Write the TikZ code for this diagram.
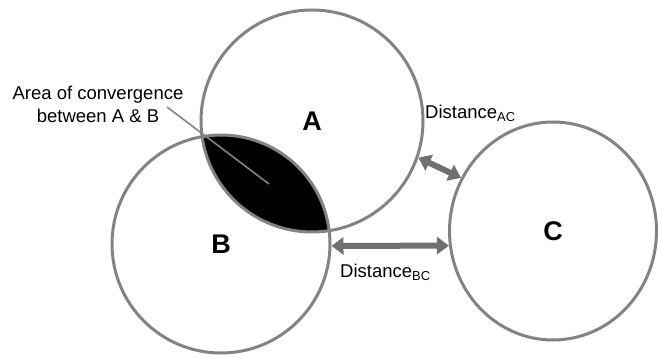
\documentclass[tikz,border=0pt]{standalone}
\usepackage{fontspec}
\setmainfont{Liberation Sans}
\usetikzlibrary{shapes.geometric,arrows.meta}
\definecolor{ringgray}{HTML}{838383}
\definecolor{arrowgray}{HTML}{707070}
\begin{document}
\begin{tikzpicture}[x=1pt,y=-1pt,
  ring/.style={ellipse, draw=ringgray, line width=3pt, inner sep=0pt,
    font=\fontsize{27}{27}\selectfont\bfseries},
  lbl/.style={font=\fontsize{18.5}{23}\selectfont, inner sep=0pt},
  dist/.style={draw=arrowgray, line width=6pt,
    {Triangle[length=12pt,width=17pt]}-{Triangle[length=12pt,width=17pt]}},
  leader/.style={draw=ringgray, line width=1.6pt}]
\useasboundingbox (0,0) rectangle (658,358);
% lens (intersection of A and B)
\begin{scope}
  \clip (312,121) circle (111pt);
  \fill[black] (221,244) circle (109pt);
\end{scope}
% circles
\node[ring, minimum width=222pt, minimum height=222pt] (A) at (312,121) {A};
\node[ring, minimum width=218pt, minimum height=218pt] (B) at (221,244) {B};
\node[ring, minimum width=207pt, minimum height=218pt] (C) at (553,231) {C};
% label and leader
\node[lbl, align=center] (conv) at (98,104) {Area of convergence\\between A \& B};
\coordinate (lstart) at (167,107);
\coordinate (lend) at (269,184);
\draw[leader] (lstart) -- (lend);
% distances
\draw[dist] (A.-19.6) -- (C.150);
\draw[dist] (B.-1) -- (C.188);
\node[lbl, anchor=west] (dac) at (425,113) {Distance\textsubscript{AC}};
\node[lbl, anchor=west] (dbc) at (340,272) {Distance\textsubscript{BC}};
\end{tikzpicture}
\end{document}
